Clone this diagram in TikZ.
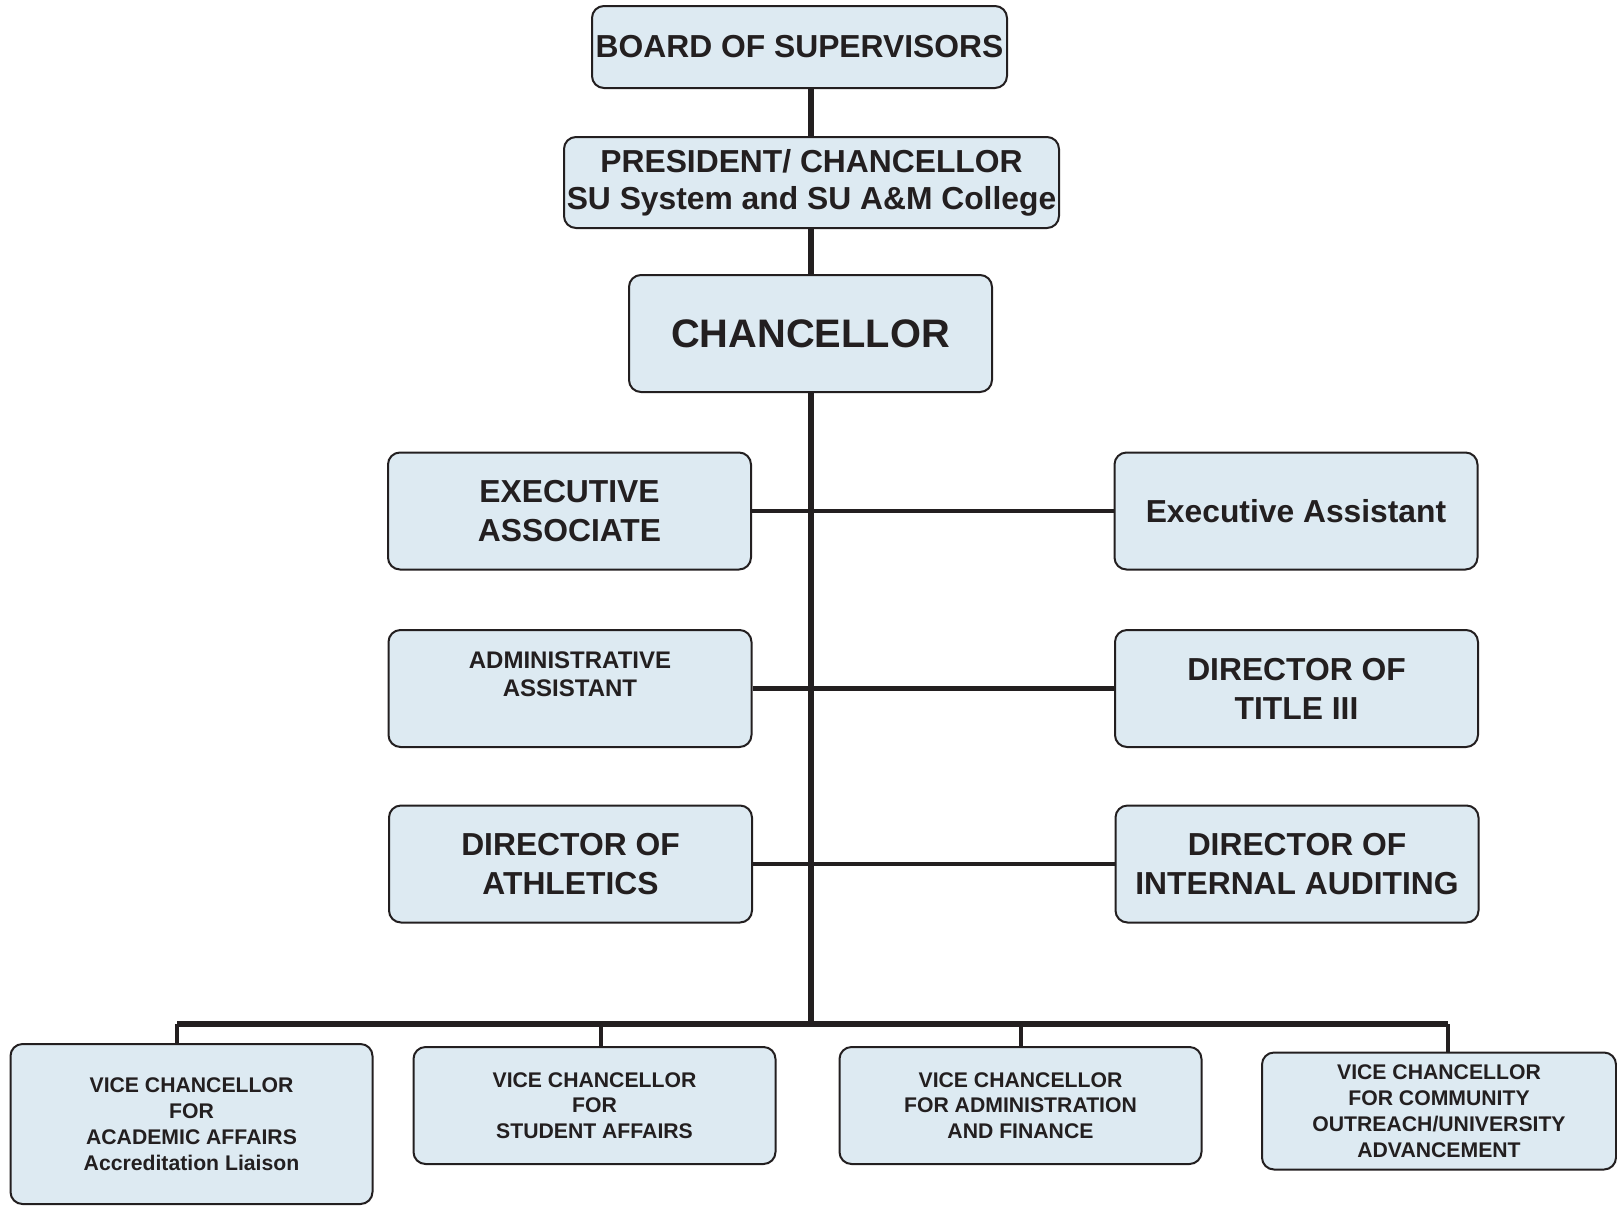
\documentclass[tikz,border=0pt]{standalone}
\usepackage{fontspec}
\setmainfont{Liberation Sans}
\usepackage{tikz}
\usetikzlibrary{positioning,calc}
\definecolor{boxfill}{HTML}{DDEAF2}
\definecolor{ink}{HTML}{231F20}
\tikzset{>=latex,
  orgbox/.style={draw=ink,line width=1pt,fill=boxfill,rounded corners=6pt,align=center,inner sep=0pt,text=ink,
    font=\bfseries\fontsize{15.9}{19.5}\selectfont},
  sidebox/.style={orgbox,minimum width=181.5pt,minimum height=58.5pt},
  vcbox/.style={orgbox,minimum width=181pt,minimum height=58.5pt,font=\bfseries\fontsize{10.6}{12.9}\selectfont},
  spine/.style={draw=ink,line width=3pt},
  branch/.style={draw=ink,line width=2.4pt},
  drop/.style={draw=ink,line width=1.8pt}}

\begin{document}
\begin{tikzpicture}[x=0.5pt,y=-0.5pt]
    \useasboundingbox (0,0) rectangle (1617,1206);
    % top of the chart
    \node[orgbox,minimum width=207.5pt,minimum height=41pt] (board) at (799.5,47) {BOARD OF SUPERVISORS};
    \node[orgbox,minimum width=247.5pt,minimum height=45.5pt,font=\bfseries\fontsize{15.9}{18.5}\selectfont] (pres) at (811.5,182.5) {PRESIDENT/ CHANCELLOR\\SU System and SU A\&M College};
    \node[orgbox,minimum width=181.5pt,minimum height=58.5pt,font=\bfseries\fontsize{19.9}{23}\selectfont] (chanc) at (810.5,333.5) {CHANCELLOR};
    % staff on both sides
    \node[sidebox] (execassoc) at (569.5,511) {EXECUTIVE\\ASSOCIATE};
    \node[sidebox] (execasst) at (1296,511) {Executive Assistant};
    \node[sidebox,font=\bfseries\fontsize{12}{14.4}\selectfont] (admin) at (570,688.5) {ADMINISTRATIVE\\ASSISTANT\\\mbox{}};
    \node[sidebox] (title) at (1296.5,688.5) {DIRECTOR OF\\TITLE III};
    \node[sidebox] (athl) at (570.5,864) {DIRECTOR OF\\ATHLETICS};
    \node[sidebox] (audit) at (1297,864) {DIRECTOR OF\\INTERNAL AUDITING};
    % vice chancellors
    \node[vcbox,minimum height=80pt] (vcacad) at (191.5,1124) {VICE CHANCELLOR\\FOR\\ACADEMIC AFFAIRS\\Accreditation Liaison};
    \node[vcbox] (vcstud) at (594.5,1105.5) {VICE CHANCELLOR\\FOR\\STUDENT AFFAIRS};
    \node[vcbox] (vcadmin) at (1020.5,1105.5) {VICE CHANCELLOR\\FOR ADMINISTRATION\\AND FINANCE};
    \node[vcbox,minimum width=177pt] (vccomm) at (1439,1111) {VICE CHANCELLOR\\FOR COMMUNITY\\OUTREACH/UNIVERSITY\\ADVANCEMENT};
    \coordinate (bus) at (811,1024);
    \coordinate (bus1) at (177,1024);
    \coordinate (bus2) at (601,1024);
    \coordinate (bus3) at (1021,1024);
    \coordinate (bus4) at (1448,1024);
    % connectors
    \draw[spine] (pres.north -| bus) -- (board.south -| bus);
    \draw[spine] (pres.south -| bus) -- (chanc.north -| bus);
    \draw[spine] (chanc.south -| bus) -- (bus);
    \draw[branch] (execassoc.east) -- (execasst.west);
    \draw[branch] (admin.east) -- (title.west);
    \draw[branch] (athl.east) -- (audit.west);
    \draw[spine] (bus1) -- (bus4);
    \draw[drop] (bus1) -- (vcacad.north -| bus1);
    \draw[drop] (bus2) -- (vcstud.north -| bus2);
    \draw[drop] (bus3) -- (vcadmin.north -| bus3);
    \draw[drop] (bus4) -- (vccomm.north -| bus4);
\end{tikzpicture}
\end{document}
